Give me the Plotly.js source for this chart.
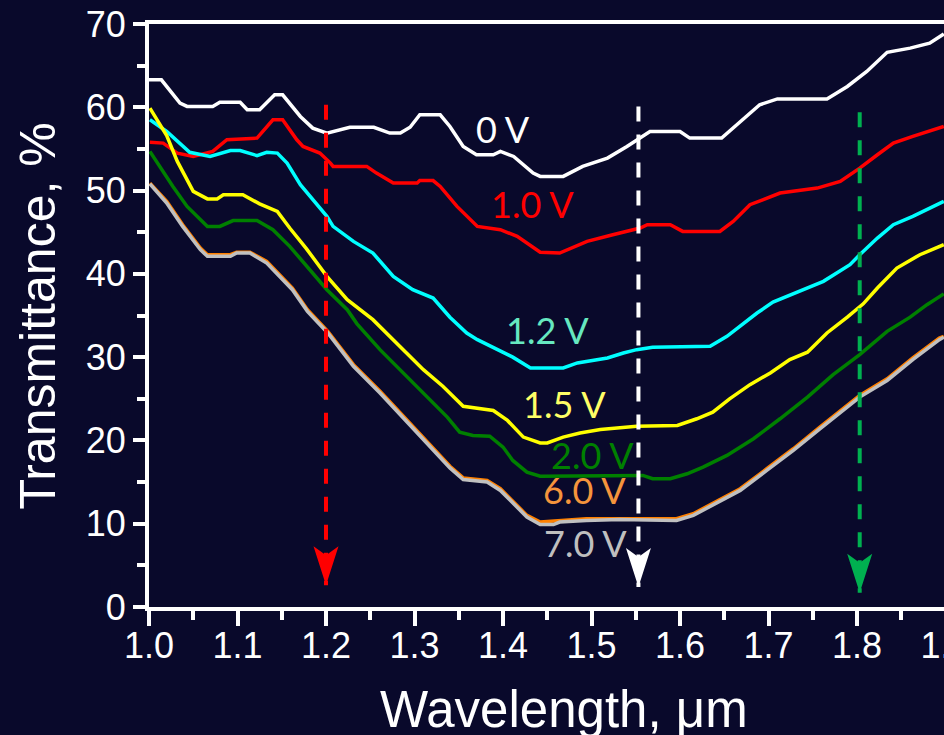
<!DOCTYPE html>
<html>
<head>
<meta charset="utf-8">
<script src="https://cdn.plot.ly/plotly-3.0.1.min.js"></script>
<style>
  html, body { margin: 0; padding: 0; background: #09092b; overflow: hidden; }
  #chart { width: 960px; height: 735px; }
</style>
</head>
<body>
<div id="chart"></div>
<script>
// Transmittance spectra of the cell at different applied voltages
const wl0V = [1.000, 1.014, 1.035, 1.043, 1.072, 1.080, 1.103, 1.111, 1.125, 1.133, 1.142, 1.151, 1.171, 1.185, 1.201, 1.227, 1.254, 1.272, 1.284, 1.295, 1.306, 1.329, 1.340, 1.355, 1.370, 1.389, 1.397, 1.412, 1.434, 1.442, 1.468, 1.490, 1.518, 1.540, 1.566, 1.600, 1.611, 1.647, 1.668, 1.690, 1.710, 1.766, 1.789, 1.811, 1.834, 1.860, 1.882, 1.898];
const t0V  = [63.3, 63.3, 60.5, 60.1, 60.1, 60.6, 60.6, 59.7, 59.7, 60.5, 61.5, 61.5, 58.9, 57.5, 56.9, 57.6, 57.6, 56.9, 56.9, 57.6, 59.1, 59.1, 57.7, 55.3, 54.3, 54.3, 54.7, 54.1, 52.1, 51.7, 51.7, 52.9, 53.9, 55.3, 57.1, 57.1, 56.3, 56.3, 58.3, 60.3, 61.0, 61.0, 62.5, 64.3, 66.6, 67.1, 67.7, 68.8];

const wl10V = [1.001, 1.016, 1.032, 1.050, 1.072, 1.088, 1.122, 1.133, 1.140, 1.151, 1.167, 1.174, 1.193, 1.205, 1.208, 1.246, 1.257, 1.276, 1.303, 1.306, 1.321, 1.329, 1.348, 1.371, 1.397, 1.416, 1.434, 1.442, 1.464, 1.495, 1.524, 1.555, 1.563, 1.589, 1.603, 1.645, 1.660, 1.679, 1.713, 1.755, 1.781, 1.803, 1.823, 1.841, 1.863, 1.882, 1.898];
const t10V  = [55.8, 55.7, 54.5, 54.1, 54.7, 56.1, 56.3, 57.7, 58.5, 58.5, 56.1, 55.3, 54.5, 53.3, 52.9, 52.9, 52.1, 50.9, 50.9, 51.2, 51.2, 50.5, 48.1, 45.7, 45.3, 44.5, 43.2, 42.6, 42.5, 43.9, 44.7, 45.5, 45.9, 45.9, 45.1, 45.1, 46.3, 48.3, 49.7, 50.3, 51.1, 52.7, 54.3, 55.7, 56.5, 57.1, 57.7];

const wl12V = [1.001, 1.020, 1.046, 1.069, 1.092, 1.103, 1.122, 1.133, 1.145, 1.156, 1.171, 1.201, 1.208, 1.231, 1.253, 1.276, 1.298, 1.321, 1.340, 1.359, 1.371, 1.389, 1.411, 1.431, 1.468, 1.484, 1.518, 1.536, 1.551, 1.569, 1.634, 1.653, 1.671, 1.687, 1.705, 1.736, 1.762, 1.792, 1.803, 1.823, 1.841, 1.863, 1.882, 1.898];
const t12V  = [58.5, 57.1, 54.6, 54.1, 54.8, 54.8, 54.2, 54.6, 54.5, 53.3, 50.7, 46.9, 45.7, 43.9, 42.5, 39.7, 38.1, 37.1, 34.8, 32.9, 32.1, 31.2, 30.0, 28.7, 28.7, 29.3, 29.9, 30.5, 30.9, 31.2, 31.3, 32.5, 34.0, 35.3, 36.6, 37.9, 39.1, 41.1, 42.3, 44.3, 45.9, 46.9, 47.9, 48.7];

const wl15V = [1.001, 1.020, 1.032, 1.050, 1.066, 1.077, 1.084, 1.106, 1.125, 1.145, 1.159, 1.178, 1.201, 1.224, 1.253, 1.284, 1.310, 1.332, 1.355, 1.389, 1.405, 1.423, 1.442, 1.450, 1.468, 1.487, 1.510, 1.551, 1.597, 1.619, 1.637, 1.656, 1.679, 1.702, 1.724, 1.744, 1.766, 1.789, 1.807, 1.823, 1.845, 1.871, 1.898];
const t15V  = [59.9, 56.6, 53.5, 49.9, 49.0, 49.0, 49.5, 49.5, 48.4, 47.5, 45.5, 43.0, 39.7, 36.9, 34.5, 31.2, 28.5, 26.5, 24.1, 23.6, 22.4, 20.4, 19.7, 19.7, 20.4, 20.9, 21.3, 21.7, 21.8, 22.6, 23.4, 25.0, 26.7, 28.1, 29.7, 30.6, 32.9, 34.8, 36.4, 38.3, 40.7, 42.3, 43.5];

const wl20V = [1.001, 1.012, 1.027, 1.043, 1.066, 1.080, 1.095, 1.122, 1.140, 1.159, 1.178, 1.201, 1.224, 1.235, 1.261, 1.287, 1.314, 1.337, 1.351, 1.366, 1.385, 1.400, 1.411, 1.427, 1.442, 1.558, 1.569, 1.589, 1.608, 1.626, 1.653, 1.683, 1.713, 1.744, 1.773, 1.803, 1.834, 1.860, 1.879, 1.898];
const t20V  = [54.7, 52.9, 50.5, 48.1, 45.7, 45.7, 46.4, 46.4, 45.3, 43.3, 40.9, 38.1, 35.7, 34.0, 30.9, 28.1, 25.2, 22.8, 21.0, 20.6, 20.5, 19.2, 17.6, 16.2, 15.7, 15.8, 15.4, 15.4, 16.0, 16.8, 18.2, 20.2, 22.6, 25.2, 27.9, 30.3, 33.1, 34.8, 36.3, 37.6];

const wl60V = [1.001, 1.020, 1.038, 1.058, 1.066, 1.092, 1.099, 1.114, 1.133, 1.151, 1.162, 1.179, 1.202, 1.231, 1.261, 1.290, 1.318, 1.340, 1.355, 1.382, 1.397, 1.412, 1.427, 1.442, 1.464, 1.494, 1.532, 1.596, 1.615, 1.637, 1.668, 1.698, 1.728, 1.758, 1.789, 1.803, 1.834, 1.863, 1.893, 1.898];
const t60V  = [50.9, 48.7, 45.9, 43.1, 42.3, 42.3, 42.6, 42.6, 41.5, 39.5, 38.3, 35.7, 33.1, 29.1, 25.9, 22.6, 19.4, 16.9, 15.5, 15.2, 14.2, 12.6, 11.0, 10.2, 10.4, 10.6, 10.6, 10.6, 11.2, 12.4, 14.2, 16.6, 19.0, 21.6, 24.2, 25.4, 27.4, 29.9, 32.3, 32.5];

const wl70V = [1.001, 1.020, 1.038, 1.058, 1.066, 1.092, 1.099, 1.114, 1.133, 1.151, 1.162, 1.179, 1.202, 1.231, 1.261, 1.290, 1.318, 1.340, 1.355, 1.382, 1.397, 1.412, 1.427, 1.442, 1.457, 1.464, 1.494, 1.532, 1.596, 1.615, 1.637, 1.668, 1.698, 1.728, 1.758, 1.789, 1.803, 1.834, 1.863, 1.893, 1.898];
const t70V  = [50.8, 48.5, 45.7, 42.9, 42.1, 42.1, 42.5, 42.5, 41.3, 39.3, 38.1, 35.5, 32.9, 28.9, 25.7, 22.4, 19.2, 16.7, 15.3, 15.0, 14.0, 12.4, 10.8, 9.9, 9.9, 10.2, 10.4, 10.5, 10.4, 11.0, 12.2, 14.0, 16.4, 18.8, 21.4, 24.0, 25.2, 27.2, 29.7, 32.1, 32.4];

// Curve labels and where they sit (wavelength, transmittance)
const labelTexts  = ['0 V', '1.0 V', '1.2 V', '1.5 V', '2.0 V', '6.0 V', '7.0 V'];
const labelWl     = [1.400, 1.433, 1.450, 1.470, 1.501, 1.4915, 1.493];
const labelT      = [57.4, 48.4, 33.2, 24.4, 18.2, 14.1, 7.7];
const labelColors = ['#ffffff', '#ff0000', '#66e8c0', '#ffff66', '#008000', '#f5943c', '#bfbfbf'];

// Marker wavelengths shown by the dashed arrows
const arrowWl     = [1.2, 1.553, 1.803];
const arrowTopT   = [60.3, 60.1, 59.4];
const arrowTipT   = [2.6, 2.4, 1.7];
const arrowColors = ['#ff0000', '#ffffff', '#00b050'];

const BG = '#09092b';

const series = [
  {x: wl0V,  y: t0V,  color: '#ffffff', name: '0 V'},
  {x: wl10V, y: t10V, color: '#ff0000', name: '1.0 V'},
  {x: wl12V, y: t12V, color: '#00ffff', name: '1.2 V'},
  {x: wl15V, y: t15V, color: '#ffff00', name: '1.5 V'},
  {x: wl20V, y: t20V, color: '#008000', name: '2.0 V'},
  {x: wl60V, y: t60V, color: '#ff8000', name: '6.0 V'},
  {x: wl70V, y: t70V, color: '#c0c0c0', name: '7.0 V'}
];

const traces = series.map(s => ({
  type: 'scatter', mode: 'lines', x: s.x, y: s.y, name: s.name,
  line: {color: s.color, width: 3.5}, hoverinfo: 'skip'
}));

const shapes = [];
arrowWl.forEach((w, i) => {
  shapes.push({
    type: 'line', xref: 'x', yref: 'y', x0: w, x1: w, y0: arrowTopT[i], y1: arrowTipT[i],
    line: {color: arrowColors[i], width: 4, dash: '15px,13px'}, layer: 'above'
  });
  // barbed arrowhead, drawn in pixels around the tip
  shapes.push({
    type: 'path', xref: 'x', yref: 'y', xsizemode: 'pixel', ysizemode: 'pixel',
    xanchor: w, yanchor: arrowTipT[i],
    path: 'M0,0 L12.5,39 L0,30 L-12.5,39 Z',
    fillcolor: arrowColors[i], line: {width: 0}, layer: 'above'
  });
});

const annotations = labelTexts.map((t, i) => ({
  text: t, x: labelWl[i], y: labelT[i], xref: 'x', yref: 'y',
  showarrow: false, xanchor: 'center', yanchor: 'middle',
  font: {family: 'Lato, "Open Sans", sans-serif', size: 36, color: labelColors[i]}
}));

// axis titles
annotations.push({
  text: 'Wavelength, μm', xref: 'paper', yref: 'paper', x: 0.5207, y: -0.1760,
  xanchor: 'center', yanchor: 'middle', showarrow: false,
  font: {family: '"Liberation Sans", Arial, sans-serif', size: 51, color: '#ffffff'}
});
annotations.push({
  text: 'Transmittance, %', xref: 'paper', yref: 'paper', x: -0.1393, y: 0.5,
  xanchor: 'center', yanchor: 'middle', textangle: -90, showarrow: false,
  font: {family: '"Liberation Sans", Arial, sans-serif', size: 50, color: '#ffffff'}
});

const tickFont = {family: '"Liberation Sans", Arial, sans-serif', size: 36, color: '#ffffff'};

const layout = {
  width: 960, height: 735,
  margin: {l: 149, r: 14, t: 24, b: 128},
  paper_bgcolor: BG, plot_bgcolor: BG,
  showlegend: false,
  xaxis: {
    range: [1.0, 1.9005], tick0: 1.0, dtick: 0.1, tickformat: '.1f',
    showline: true, linecolor: '#ffffff', linewidth: 4, mirror: true,
    ticks: 'outside', ticklen: 15, tickwidth: 4, tickcolor: '#ffffff',
    ticklabelstandoff: -11, ticklabeloverflow: 'allow',
    minor: {dtick: 0.05, tick0: 1.0, ticks: 'outside', ticklen: 9, tickwidth: 4, tickcolor: '#ffffff', showgrid: false},
    showgrid: false, zeroline: false, tickfont: tickFont
  },
  yaxis: {
    range: [0, 70], tick0: 0, dtick: 10,
    showline: true, linecolor: '#ffffff', linewidth: 4, mirror: true,
    ticks: 'outside', ticklen: 12, tickwidth: 4, tickcolor: '#ffffff',
    minor: {dtick: 5, tick0: 0, ticks: 'outside', ticklen: 8, tickwidth: 4, tickcolor: '#ffffff', showgrid: false},
    showgrid: false, zeroline: false, tickfont: tickFont
  },
  shapes: shapes,
  annotations: annotations
};

Plotly.newPlot('chart', traces, layout, {displayModeBar: false, staticPlot: true});
</script>
</body>
</html>
